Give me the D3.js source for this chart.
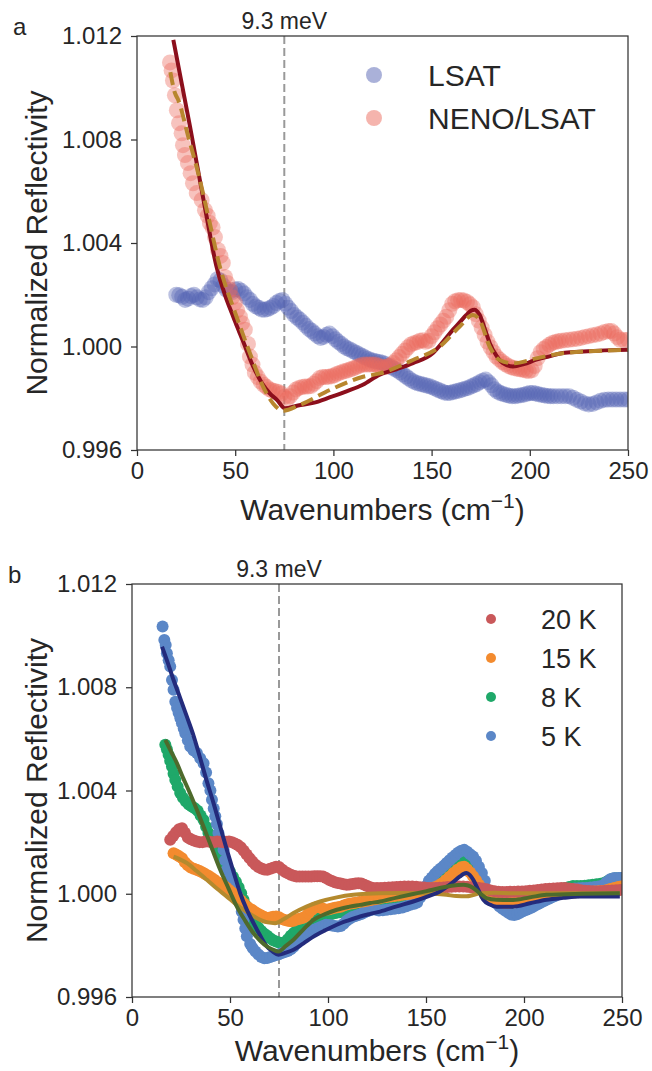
<!DOCTYPE html>
<html>
<head>
<meta charset="utf-8">
<script src="https://cdn.jsdelivr.net/npm/d3@7"></script>
<style>
body { margin: 0; background: #fff; }
svg text { font-family: 'Liberation Sans', Arial, Helvetica, sans-serif; fill: #262626; }
</style>
</head>
<body>
<script>
var xTicks = [0, 50, 100, 150, 200, 250];
var yTicks = [0.996, 1.000, 1.004, 1.008, 1.012];
var mevLine = 75;   // 9.3 meV in cm-1
var mevLabel = '9.3 meV';

// panel a : substrate vs film
var lsat = [[20,1.002],[21.5,1.00198],[23,1.00192],[24.5,1.0018],[26,1.00185],[27.5,1.00195],[29,1.002],[30.5,1.0019],[32,1.00182],[33.5,1.0018],[35,1.0019],[36.5,1.0021],[38,1.00225],[39.5,1.0024],[41,1.0026],[42.5,1.00255],[44,1.00235],[45.5,1.0022],[47,1.00212],[48.5,1.0021],[50,1.0022],[51.5,1.00222],[53,1.00215],[54.5,1.00205],[56,1.0019],[57.5,1.0018],[59,1.00165],[60.5,1.00155],[62,1.0015],[63.5,1.00143],[65,1.00142],[66.5,1.00145],[68,1.0015],[69.5,1.00157],[71,1.00168],[72.5,1.00176],[74,1.0018],[75.5,1.00165],[77,1.0015],[78.5,1.00137],[80,1.00122],[81.5,1.00112],[83,1.00103],[84.5,1.00092],[86,1.0008],[87.5,1.00068],[89,1.0006],[90.5,1.0005],[92,1.0004],[93.5,1.00033],[95,1.00037],[96.5,1.00045],[98,1.0005],[99.5,1.0004],[101,1.00028],[102.5,1.00018],[104,1.0001],[105.5,1.0],[107,0.99993],[108.5,0.99988],[110,0.99982],[111.5,0.99976],[113,0.9997],[114.5,0.99964],[116,0.99958],[117.5,0.99953],[119,0.99948],[120.5,0.99945],[122,0.99942],[123.5,0.9994],[125,0.99937],[126.5,0.99932],[128,0.99926],[129.5,0.9992],[131,0.99914],[132.5,0.99908],[134,0.999],[135.5,0.99892],[137,0.99884],[138.5,0.99876],[140,0.99868],[141.5,0.99862],[143,0.99858],[144.5,0.99855],[146,0.99852],[147.5,0.99849],[149,0.99846],[150.5,0.99842],[152,0.99837],[153.5,0.99832],[155,0.99827],[156.5,0.99822],[158,0.9982],[159.5,0.99821],[161,0.99824],[162.5,0.99827],[164,0.9983],[165.5,0.99833],[167,0.99837],[168.5,0.9984],[170,0.99845],[171.5,0.9985],[173,0.99855],[174.5,0.99862],[176,0.99868],[177.5,0.99872],[179,0.99862],[180.5,0.9985],[182,0.99835],[183.5,0.99826],[185,0.9982],[186.5,0.99816],[188,0.99813],[189.5,0.9981],[191,0.99808],[192.5,0.99808],[194,0.9981],[195.5,0.99812],[197,0.99814],[198.5,0.99817],[200,0.9982],[201.5,0.9982],[203,0.99818],[204.5,0.99815],[206,0.99813],[207.5,0.99811],[209,0.99809],[210.5,0.99808],[212,0.99808],[214,0.99808],[216,0.99808],[218,0.99808],[220,0.99808],[222,0.99802],[224,0.99794],[226,0.99787],[228,0.9978],[230,0.99776],[232,0.99778],[234,0.99784],[236,0.9979],[238,0.99794],[240,0.99795],[242,0.99795],[244,0.99795],[246,0.99795],[248,0.99795],[250,0.99795]];

var neno = [[16.8,1.01098],[17.6,1.01067],[18.3,1.01028],[19.3,1.00971],[20.3,1.00913],[21.4,1.00863],[22.7,1.00824],[23.4,1.00778],[24.4,1.0074],[25.9,1.00709],[27.3,1.0067],[28.5,1.00631],[30.4,1.00593],[32.9,1.00566],[34.6,1.00527],[36,1.00505],[37.1,1.00477],[38.5,1.0046],[39.7,1.00423],[41.2,1.00373],[42.5,1.0035],[43.7,1.00323],[44.8,1.00269],[46,1.00245],[47.3,1.00219],[48.5,1.0019],[49.8,1.00169],[51,1.0014],[52.4,1.00115],[53.5,1.0009],[54.9,1.00065],[56.5,1.0001],[57.5,0.99961],[58.8,0.9993],[60,0.99899],[61.5,0.99882],[63,0.99864],[64.5,0.99852],[66,0.99843],[67.5,0.99834],[69,0.9983],[70.5,0.99827],[72,0.99824],[73.5,0.99818],[75,0.99805],[76.5,0.99797],[78,0.99808],[79.5,0.99822],[81,0.99834],[82.5,0.9984],[84,0.99843],[85.5,0.99845],[87,0.99845],[88.5,0.99847],[90,0.99856],[91.5,0.99866],[93,0.99878],[94.5,0.99882],[96,0.99882],[97.5,0.99883],[99,0.99885],[100.5,0.99889],[102,0.99895],[103.5,0.99899],[105,0.99903],[106.5,0.99906],[108,0.9991],[109.5,0.99914],[111,0.99918],[112.5,0.99923],[114,0.99928],[115.5,0.9993],[117,0.9993],[118.5,0.9993],[120,0.9993],[121.5,0.9993],[123,0.99926],[124.5,0.99921],[126,0.9992],[127.5,0.99923],[129,0.99928],[130.5,0.99936],[132,0.99947],[133.5,0.99959],[135,0.99972],[136.5,0.99985],[138,0.99997],[139.5,1.00008],[141,1.00013],[142.5,1.00016],[144,1.00022],[145.5,1.00024],[147,1.00018],[148.5,1.00022],[150,1.0004],[151.5,1.00055],[153,1.00071],[154.5,1.00085],[156,1.001],[157.5,1.00115],[159,1.0014],[160.5,1.00165],[162,1.00175],[163.5,1.00179],[165,1.0018],[166.5,1.00178],[168,1.00172],[169.5,1.00163],[171,1.00152],[172.5,1.00125],[174,1.001],[175.5,1.00073],[177,1.00045],[178.5,1.00018],[180,0.99997],[181.5,0.99978],[183,0.99961],[184.5,0.9995],[186,0.9994],[187.5,0.99932],[189,0.99925],[190.5,0.9992],[192,0.99917],[193.5,0.99914],[195,0.99912],[196.5,0.9991],[198,0.99907],[199.5,0.99905],[201,0.99908],[202.5,0.99925],[204,0.99955],[205.5,0.99978],[207,0.9999],[208.5,0.99998],[210,1.00007],[211.5,1.00014],[213,1.00017],[214.5,1.0002],[216,1.00022],[218,1.00024],[220,1.00026],[222,1.00028],[224,1.0003],[226,1.00033],[228,1.00037],[230,1.0004],[232,1.00043],[234,1.00046],[236,1.0005],[238,1.00056],[240,1.0006],[241.5,1.0006],[243,1.0005],[244.5,1.00036],[246,1.00026],[248,1.00025],[250,1.00026]];

var nenoFit = [[18.5,1.01185],[27,1.0085],[35,1.0052],[40.5,1.00308],[45,1.00195],[49,1.00115],[54,1.0002],[59.2,0.99922],[63.5,0.9986],[67.6,0.99819],[71.5,0.99792],[75.3,0.99761],[82,0.99772],[89.7,0.99782],[98,0.99803],[106.7,0.99827],[115,0.99852],[123.6,0.99891],[132,0.99912],[140.5,0.99936],[150.7,0.99975],[156,1.0002],[160.9,1.00065],[164.5,1.00095],[167.7,1.00122],[170,1.00138],[171.9,1.00142],[173.3,1.00135],[174.5,1.00122],[177,1.0007],[179.6,1.00013],[183,0.99965],[186.3,0.99936],[191.4,0.99923],[197,0.99932],[203.3,0.99949],[210,0.99962],[216.8,0.99975],[225,0.9998],[235,0.99984],[250,0.99987]];

var nenoFit2 = [[17,1.0106],[19.3,1.0098],[21,1.00953],[26.1,1.00811],[31.2,1.00669],[36.3,1.00502],[42.2,1.00308],[50.7,1.00115],[57.5,0.99974],[64.2,0.99845],[69.3,0.9978],[74.4,0.99752],[82.9,0.99774],[98.2,0.99832],[115.1,0.99883],[123.6,0.99896],[140.5,0.99948],[154.1,0.99999],[164.3,1.00077],[171,1.00122],[174.5,1.00102],[179.6,0.99999],[184.6,0.99948],[191.4,0.99935],[203.3,0.99954],[216.8,0.99974],[250,0.99987]];

// panel b : temperature series
var t20 = [[19.5,1.00209],[21,1.00224],[22.5,1.00238],[24,1.0025],[25.5,1.00254],[27,1.00236],[28.5,1.00218],[30,1.00211],[31.5,1.00206],[33,1.00202],[34.5,1.002],[36,1.002],[37.5,1.00202],[39,1.00202],[40.5,1.002],[42,1.002],[43.5,1.00202],[45,1.00201],[46.5,1.002],[48,1.00201],[49.5,1.00202],[51,1.002],[52.5,1.00195],[54,1.00189],[55.5,1.0018],[57,1.00167],[58.5,1.00152],[60,1.00138],[61.5,1.00124],[63,1.00112],[64.5,1.00104],[66,1.00098],[67.5,1.00094],[69,1.00093],[70.5,1.00097],[72,1.00101],[73.5,1.00105],[75,1.00104],[76.5,1.00094],[78,1.00085],[79.5,1.00079],[81,1.00074],[82.5,1.0007],[84,1.00067],[85.5,1.00067],[87,1.00067],[88.5,1.00067],[90,1.00067],[91.5,1.00067],[93,1.00068],[94.5,1.00068],[96,1.00068],[97.5,1.00067],[99,1.00061],[100.5,1.00054],[102,1.00049],[103.5,1.00045],[105,1.00042],[106.5,1.0004],[108,1.00037],[109.5,1.00035],[111,1.00036],[112.5,1.00038],[114,1.0004],[115.5,1.00041],[117,1.0004],[118.5,1.00035],[120,1.0003],[121.5,1.00025],[123,1.00022],[125,1.00022],[127,1.00022],[129,1.00023],[131,1.00024],[133,1.00025],[135,1.00026],[137,1.00027],[139,1.00028],[141,1.00028],[143,1.00028],[145,1.00027],[147,1.00025],[149,1.00024],[151,1.00022],[153,1.00022],[155,1.00022],[157,1.00023],[159,1.00024],[161,1.00026],[163,1.00027],[165,1.00028],[167,1.00028],[169,1.00028],[171,1.00027],[173,1.00025],[175,1.00024],[177,1.00022],[179,1.0002],[181,1.00017],[183,1.00013],[185,1.0001],[187,1.00008],[189,1.00007],[191,1.00007],[193,1.00008],[195,1.00008],[197,1.00009],[199,1.00009],[201,1.0001],[203,1.00012],[205,1.00013],[207,1.00015],[209,1.00016],[211,1.00018],[213,1.00019],[215,1.0002],[217,1.00021],[219,1.00022],[221,1.00022],[223,1.0002],[225,1.00018],[227,1.00016],[229,1.00014],[231,1.00012],[233,1.00011],[235,1.0001],[237,1.00009],[239,1.0001],[241,1.00011],[243,1.00012],[245,1.00013],[247,1.00014],[249,1.00015]];

var t15 = [[21.2,1.00157],[22.5,1.00152],[24,1.00145],[25.5,1.00138],[27,1.00122],[28.5,1.0011],[30,1.00102],[31.5,1.00097],[33,1.00093],[34.5,1.00088],[36,1.00082],[37.5,1.00076],[39,1.0007],[40.5,1.00062],[42,1.00054],[43.5,1.00046],[45,1.00039],[46.5,1.00032],[48,1.00024],[49.5,1.00015],[51,1.00005],[52.5,0.99995],[54,0.99986],[55.5,0.99974],[57,0.99962],[58.5,0.99951],[60,0.99943],[61.5,0.99936],[63,0.99928],[64.5,0.99922],[66,0.99916],[67.5,0.9991],[69,0.99906],[70.5,0.99908],[72,0.99911],[73.5,0.99912],[75,0.99909],[76.5,0.99902],[78,0.99898],[79.5,0.99895],[81,0.99893],[82.5,0.99895],[84,0.999],[85.5,0.99903],[87,0.99906],[88.5,0.99912],[90,0.99924],[91.5,0.99936],[93,0.99945],[94.5,0.9995],[96,0.99947],[97.5,0.99942],[99,0.99938],[100.5,0.9994],[102,0.99943],[103.5,0.99946],[105,0.99948],[106.5,0.9995],[108,0.99954],[109.5,0.99958],[111,0.99961],[112.5,0.99963],[114,0.99965],[116,0.99968],[118,0.9997],[120,0.99973],[122,0.99976],[124,0.99979],[126,0.99982],[128,0.99985],[130,0.99987],[132,0.99989],[134,0.99991],[136,0.99993],[138,0.99996],[140,0.99998],[142,1.0],[144,1.00003],[146,1.00007],[148,1.00011],[150,1.00015],[152,1.0002],[154,1.00024],[156,1.0003],[158,1.0004],[160,1.00052],[162,1.00066],[164,1.0008],[166,1.00093],[168,1.00103],[169.5,1.00105],[171,1.00095],[172.5,1.00082],[174,1.00068],[175.5,1.00052],[177,1.00035],[178.5,1.00018],[180,0.99997],[182,0.99984],[184,0.99977],[186,0.99972],[188,0.99968],[190,0.99965],[192,0.99965],[194,0.99968],[196,0.99973],[198,0.99978],[200,0.99983],[202,0.99987],[204,0.9999],[206,0.99993],[208,0.99995],[210,0.99997],[212,0.99999],[214,1.0],[216,1.00001],[218,1.00002],[220,1.00002],[222,1.00003],[224,1.00004],[226,1.00005],[228,1.00006],[230,1.00007],[232,1.00007],[234,1.00008],[236,1.00009],[238,1.0001],[240,1.00011],[242,1.00014],[244,1.00018],[246,1.00022],[248,1.00026],[249.5,1.00028]];

var t8 = [[17,1.00577],[17.8,1.0056],[18.7,1.00538],[19.5,1.00515],[20.4,1.00493],[21.2,1.00465],[22.1,1.00441],[23.3,1.00415],[24.6,1.0039],[26,1.00372],[27.5,1.00357],[29,1.00346],[30.5,1.00338],[32,1.00331],[33.5,1.00322],[35,1.00303],[36.5,1.00286],[37.8,1.0026],[39,1.00235],[40.3,1.00215],[41.6,1.00196],[43,1.00178],[44.5,1.00162],[46,1.00142],[47.3,1.00122],[48.6,1.00104],[50,1.00085],[51.5,1.00066],[53,1.00047],[54.4,1.00025],[55.7,1.00002],[56.9,0.99977],[58,0.99955],[59.2,0.99932],[60.4,0.9991],[61.7,0.99896],[63,0.99883],[64.5,0.99868],[66,0.99856],[67.5,0.99845],[69,0.99837],[70.5,0.99828],[72,0.9982],[73.5,0.99815],[75,0.99811],[76.5,0.99809],[78,0.99812],[79.5,0.99824],[81,0.99837],[82.5,0.99848],[84,0.99858],[85.5,0.99867],[87,0.99875],[88.5,0.99883],[90,0.99889],[91.5,0.99895],[93,0.999],[94.5,0.99906],[96,0.99912],[98,0.99916],[100,0.9992],[102,0.99922],[104,0.99925],[106,0.99928],[108,0.99931],[110,0.99934],[112,0.99937],[114,0.9994],[116,0.99945],[118,0.9995],[120,0.99956],[122,0.99962],[124,0.99965],[126,0.99968],[128,0.9997],[130,0.99972],[132,0.99974],[134,0.99976],[136,0.99978],[138,0.9998],[140,0.99984],[142,0.99988],[144,0.99993],[146,1.00001],[148,1.0001],[150,1.00025],[152,1.0004],[154,1.00058],[156,1.00075],[158,1.00088],[160,1.001],[162,1.00114],[164,1.00128],[166,1.00138],[168,1.00147],[169.5,1.0015],[171,1.00138],[172.5,1.00125],[174,1.0011],[175.5,1.00092],[177,1.00068],[178.5,1.00043],[180,1.00015],[181.5,0.99995],[183,0.99979],[185,0.9997],[187,0.99962],[189,0.9996],[191,0.9996],[193,0.99962],[195,0.99967],[197,0.99972],[199,0.99977],[201,0.99982],[203,0.99986],[205,0.9999],[207,0.99994],[209,0.99998],[211,1.00002],[213,1.00006],[215,1.0001],[217,1.00014],[219,1.00018],[221,1.00022],[223,1.00026],[225,1.0003],[227,1.0003],[229,1.0003],[231,1.00031],[233,1.00033],[235,1.00035],[237,1.00037],[239,1.00039],[241,1.00043],[243,1.0005],[245,1.00058],[247,1.0006],[249,1.0006]];

var t5 = [[15.6,1.01035],[16.5,1.00983],[17.2,1.00964],[17.8,1.00932],[18.7,1.00905],[19.5,1.0088],[20.4,1.00828],[21.2,1.0079],[22.1,1.00744],[23,1.0072],[23.8,1.007],[24.7,1.0068],[25.5,1.00661],[26.4,1.0064],[27.2,1.00622],[28.5,1.00595],[29.7,1.0057],[31.4,1.00555],[33.1,1.00545],[34.8,1.00525],[36.5,1.00506],[37.8,1.0047],[39,1.00428],[40,1.004],[40.8,1.00364],[41.7,1.0033],[42.5,1.003],[43.3,1.0027],[44.1,1.00235],[45.4,1.002],[46.7,1.0017],[47.5,1.0013],[48.4,1.00093],[50,1.0006],[51.8,1.00028],[53.5,0.99995],[55.2,0.99964],[56,0.9993],[56.9,0.99899],[57.8,0.99865],[58.6,0.99835],[60.3,0.99805],[61.5,0.9979],[63,0.99776],[64.5,0.99765],[66,0.99755],[67.5,0.9975],[69,0.99751],[70.5,0.99755],[72,0.99759],[73.5,0.99763],[75,0.99766],[76.5,0.9977],[78,0.99774],[79.5,0.99778],[81,0.99785],[82.5,0.99795],[84,0.99807],[85.5,0.9982],[87,0.99829],[88.5,0.99837],[90,0.99845],[91.5,0.99853],[93,0.99861],[94.5,0.99865],[96,0.9987],[97.5,0.99875],[99,0.9988],[100.5,0.99879],[102,0.99877],[103.5,0.99875],[105,0.99873],[106.5,0.99875],[108,0.99884],[109.5,0.99895],[111,0.99903],[112.5,0.9991],[114,0.99914],[115.5,0.99918],[117,0.99922],[118.5,0.99927],[120,0.99932],[121.5,0.99936],[123,0.9994],[124.5,0.99938],[126,0.99935],[128,0.99936],[130,0.99938],[132,0.9994],[134,0.99942],[136,0.99944],[138,0.99947],[140,0.99952],[142,0.99957],[144,0.99961],[145.5,0.99966],[147,0.99985],[148.5,1.00008],[150,1.0003],[151.5,1.0005],[153,1.00063],[154.5,1.00077],[156,1.00088],[157.5,1.00098],[159,1.00108],[160.5,1.00119],[162,1.0013],[163.5,1.0014],[165,1.0015],[166.5,1.0016],[168,1.00167],[169.5,1.0017],[171,1.00163],[172.5,1.00153],[174,1.00144],[175.5,1.00128],[177,1.00105],[178.5,1.0008],[180,1.0005],[181.5,1.00015],[183,0.99986],[184.5,0.99974],[186,0.99962],[187.5,0.99951],[189,0.99942],[190.5,0.99934],[192,0.99926],[193.5,0.9992],[195,0.99918],[196.5,0.99921],[198,0.99926],[199.5,0.99932],[201,0.99937],[202.5,0.99942],[204,0.99947],[205.5,0.99953],[207,0.99959],[208.5,0.99965],[210,0.99971],[211.5,0.99977],[213,0.99982],[214.5,0.99987],[216,0.99992],[217.5,0.99997],[219,1.00004],[220.5,1.0001],[222,1.00015],[224,1.00018],[226,1.0002],[228,1.00021],[230,1.00022],[232,1.00022],[234,1.00024],[236,1.00026],[238,1.00028],[240,1.00032],[242,1.00045],[244,1.00056],[246,1.00061],[248,1.00061],[249.5,1.00061]];

var fit5 = [[15.3,1.00957],[18,1.009],[21.2,1.00828],[24.5,1.0076],[28,1.00686],[31.5,1.0061],[34.8,1.00525],[38,1.0044],[41.6,1.00351],[45,1.0026],[48.4,1.0017],[51.8,1.00085],[55.2,1.00002],[58.6,0.99938],[62,0.99886],[65.4,0.99838],[68.8,0.99796],[71.8,0.99776],[74.7,0.99764],[78.5,0.99772],[82.4,0.99783],[87.5,0.99808],[92.6,0.99834],[98.5,0.99858],[104.5,0.9988],[110.5,0.99897],[116.4,0.99912],[121.5,0.99922],[126.6,0.99931],[135,0.99951],[143.5,0.9997],[150.3,0.99988],[157.1,1.00009],[162.2,1.00035],[167.3,1.00067],[169,1.00076],[170.7,1.0008],[172.4,1.00072],[174.1,1.00054],[176.7,1.00015],[179.2,0.99977],[182.6,0.99958],[186,0.9995],[194.5,0.9995],[203,0.99963],[211.5,0.99977],[220,0.99984],[228.5,0.99989],[240,0.99989],[248.9,0.99989]];

var fit8 = [[17,1.00596],[20,1.0055],[22.9,1.00506],[26,1.0045],[28.8,1.00403],[33.1,1.00325],[36.5,1.0026],[40.8,1.00175],[45,1.00093],[49.3,1.0002],[53.5,0.9995],[57.8,0.99895],[62,0.99847],[65.4,0.99818],[68.8,0.99796],[71.8,0.99784],[74.7,0.99776],[78.5,0.99798],[82.4,0.99822],[87.5,0.99862],[92.6,0.99899],[98.5,0.99921],[104.5,0.99938],[110.5,0.99949],[116.4,0.99957],[121.5,0.99964],[126.6,0.9997],[135,0.99985],[143.5,0.99999],[150.3,1.0001],[157.1,1.00022],[163,1.00031],[169,1.00035],[171.5,1.00032],[174.1,1.00022],[177.5,1.00002],[180.9,0.99983],[186,0.99977],[194.5,0.99976],[203,0.99986],[211.5,0.99996],[230,1.0],[248.9,1.00002]];

var fit15 = [[21.2,1.00144],[24.5,1.00133],[28,1.00119],[33,1.00088],[38.2,1.00054],[43.3,1.0002],[48.4,0.99989],[52.6,0.99962],[56.9,0.99938],[61.2,0.99917],[65.4,0.99899],[69.2,0.99889],[73,0.99886],[77.5,0.99902],[82.4,0.99925],[89,0.9995],[96,0.9997],[104.5,0.99986],[112.9,0.99996],[120,1.0],[126.6,1.00002],[137,1.00003],[146.9,1.00002],[154,1.0],[160.5,0.99996],[165.5,0.99991],[170.7,0.9999],[174,0.99995],[177.5,1.00002],[185,1.00004],[194.5,1.00002],[220,1.00002],[248.9,1.00002]];

var legendA = ['LSAT', 'NENO/LSAT'];
var legendB = ['20 K', '15 K', '8 K', '5 K'];

var font = "'Liberation Sans', Arial, Helvetica, sans-serif";

var svg = d3.select('body')
  .append('svg')
  .attr('width', 652)
  .attr('height', 1071);

function panel(o) {
  var x = d3.scaleLinear().domain([0, 250]).range([o.left, o.right]);
  var y = d3.scaleLinear().domain([0.996, 1.012]).range([o.bottom, o.top]);

  svg.append('clipPath')
    .attr('id', 'clip-' + o.name)
    .append('rect')
    .attr('x', o.left)
    .attr('y', o.top)
    .attr('width', o.right - o.left)
    .attr('height', o.bottom - o.top);

  var xAxis = svg.append('g')
    .attr('transform', 'translate(0,' + o.bottom + ')')
    .call(d3.axisBottom(x).tickValues(xTicks).tickSize(6).tickPadding(6).tickFormat(d3.format('d')));
  var yAxis = svg.append('g')
    .attr('transform', 'translate(' + o.left + ',0)')
    .call(d3.axisLeft(y).tickValues(yTicks).tickSize(6).tickPadding(9).tickFormat(d3.format('.3f')));

  [xAxis, yAxis].forEach(function (a) {
    a.select('.domain').remove();
    a.selectAll('line').attr('stroke', '#333').attr('stroke-width', 1.25);
    a.selectAll('text').attr('font-size', 24).attr('font-family', font).attr('fill', '#262626');
  });

  var plot = svg.append('g').attr('clip-path', 'url(#clip-' + o.name + ')');

  svg.append('text')
    .attr('x', o.left - 124)
    .attr('y', o.top - 1)
    .attr('font-size', 24)
    .text(o.name);

  svg.append('text')
    .attr('x', x(mevLine))
    .attr('y', o.top - 7)
    .attr('text-anchor', 'middle')
    .attr('font-size', 23)
    .text(mevLabel);

  var xl = svg.append('text')
    .attr('x', (o.left + o.right) / 2)
    .attr('y', o.bottom + o.labelGap)
    .attr('text-anchor', 'middle')
    .attr('font-size', 30);
  xl.append('tspan').text('Wavenumbers (cm');
  xl.append('tspan').attr('font-size', 21).attr('dy', -12).text('\u22121');
  xl.append('tspan').attr('dy', 12).text(')');

  svg.append('text')
    .attr('transform', 'translate(47,' + ((o.top + o.bottom) / 2) + ') rotate(-90)')
    .attr('text-anchor', 'middle')
    .attr('font-size', 30)
    .text('Normalized Reflectivity');

  return { x: x, y: y, plot: plot, o: o };
}

function dots(p, data, r, color, op) {
  p.plot.append('g')
    .selectAll('circle')
    .data(data)
    .enter()
    .append('circle')
    .attr('cx', function (d) { return p.x(d[0]); })
    .attr('cy', function (d) { return p.y(d[1]); })
    .attr('r', r)
    .attr('fill', color)
    .attr('fill-opacity', op);
}

function curve(p, data, color, width, dash) {
  var line = d3.line()
    .x(function (d) { return p.x(d[0]); })
    .y(function (d) { return p.y(d[1]); })
    .curve(d3.curveMonotoneX);
  p.plot.append('path')
    .datum(data)
    .attr('d', line)
    .attr('fill', 'none')
    .attr('stroke', color)
    .attr('stroke-width', width)
    .attr('stroke-dasharray', dash || null);
}

function vline(p) {
  p.plot.append('line')
    .attr('x1', p.x(mevLine)).attr('x2', p.x(mevLine))
    .attr('y1', p.o.top).attr('y2', p.o.bottom)
    .attr('stroke', '#999')
    .attr('stroke-width', 2)
    .attr('stroke-dasharray', '8,4');
}

function box(p) {
  svg.append('rect')
    .attr('x', p.o.left).attr('y', p.o.top)
    .attr('width', p.o.right - p.o.left).attr('height', p.o.bottom - p.o.top)
    .attr('fill', 'none')
    .attr('stroke', '#333')
    .attr('stroke-width', 1.25);
}

// ---- panel a
var pa = panel({ name: 'a', left: 137, right: 628, top: 36, bottom: 450, labelGap: 70 });
var colLsat = '#5563b4', colNeno = '#ec6a5c';
vline(pa);
dots(pa, lsat, 8, colLsat, 0.4);
dots(pa, neno, 8, colNeno, 0.4);
curve(pa, nenoFit, '#8c0f1c', 4);
curve(pa, nenoFit2, '#b8862e', 4, '13,6');
box(pa);

legendA.forEach(function (t, i) {
  svg.append('circle')
    .attr('cx', 374).attr('cy', 75 + i * 43).attr('r', 8)
    .attr('fill', i ? colNeno : colLsat).attr('fill-opacity', 0.5);
  svg.append('text')
    .attr('x', 428).attr('y', 86 + i * 43)
    .attr('font-size', 30)
    .text(t);
});

// ---- panel b
var pb = panel({ name: 'b', left: 132, right: 622, top: 584, bottom: 997, labelGap: 64 });
var colB = ['#c9585a', '#f38b2f', '#1fa869', '#5b87c7'];
vline(pb);
dots(pb, t8, 6, colB[2], 1);
dots(pb, t5, 6, colB[3], 1);
dots(pb, t15, 6, colB[1], 1);
dots(pb, t20, 6, colB[0], 1);
curve(pb, fit15, '#b48a2e', 4);
curve(pb, fit5, '#232b7c', 4);
curve(pb, fit8, '#4e6a2c', 4);
box(pb);

legendB.forEach(function (t, i) {
  svg.append('circle')
    .attr('cx', 491).attr('cy', 619 + i * 39).attr('r', 5)
    .attr('fill', colB[i]);
  svg.append('text')
    .attr('x', 541).attr('y', 629 + i * 39)
    .attr('font-size', 27)
    .text(t);
});
</script>
</body>
</html>
